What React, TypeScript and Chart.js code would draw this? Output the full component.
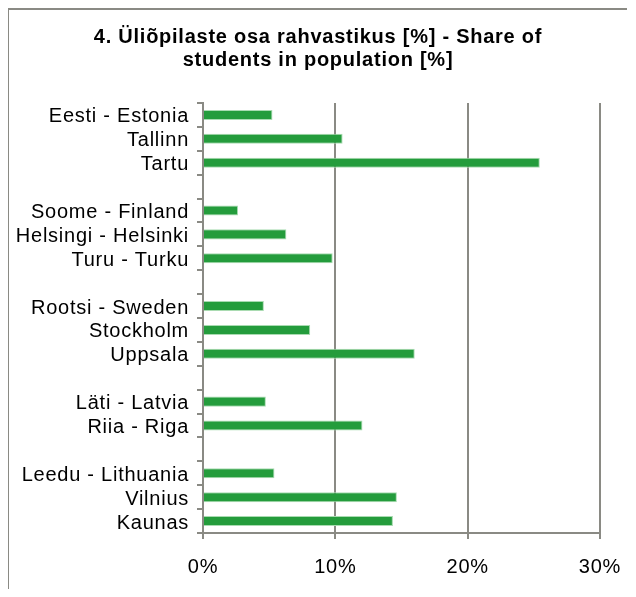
import React, { useEffect, useRef } from 'react';
import { Chart, registerables } from 'chart.js';

Chart.register(...registerables);

const titleLines = ['4. Üliõpilaste osa rahvastikus [%] - Share of', 'students in population [%]'];
const categories = [
  'Eesti - Estonia', 'Tallinn', 'Tartu', '',
  'Soome - Finland', 'Helsingi - Helsinki', 'Turu - Turku', '',
  'Rootsi - Sweden', 'Stockholm', 'Uppsala', '',
  'Läti - Latvia', 'Riia - Riga', '',
  'Leedu - Lithuania', 'Vilnius', 'Kaunas',
];
const shares: (number | null)[] = [
  5.25, 10.55, 25.45, null,
  2.65, 6.3, 9.8, null,
  4.6, 8.1, 16.0, null,
  4.75, 12.05, null,
  5.4, 14.65, 14.35,
];
const xMin = 0;
const xMax = 30;
const xStep = 10;

const GRAY = '#8a8a84';
const SPACING = '0.75px';

const spacingPlugin = {
  id: 'letterSpacing',
  beforeLayout(chart: any) {
    chart.ctx.letterSpacing = SPACING;
  },
  beforeDraw(chart: any) {
    chart.ctx.letterSpacing = SPACING;
  },
};

export default function App() {
  const ref = useRef<HTMLCanvasElement | null>(null);
  useEffect(() => {
    if (!ref.current) return;
    Chart.defaults.font.family = '"Liberation Sans", Arial, sans-serif';
    const chart = new Chart(ref.current, {
      type: 'bar',
      data: {
        labels: categories,
        datasets: [
          {
            data: shares,
            backgroundColor: '#249c3c',
            borderColor: '#a9dbb1',
            borderWidth: 1,
            barPercentage: 0.42,
            categoryPercentage: 1,
          },
        ],
      },
      plugins: [spacingPlugin],
      options: {
        indexAxis: 'y',
        animation: false,
        responsive: false,
        layout: { padding: { left: 0, right: 0, top: 0, bottom: 6 } },
        plugins: {
          legend: { display: false },
          tooltip: { enabled: false },
          title: {
            display: true,
            text: titleLines,
            color: '#000',
            font: { size: 20, weight: 'bold', lineHeight: 23 / 20 },
            padding: { top: 16, bottom: 31 },
          },
        },
        scales: {
          y: {
            type: 'category',
            offset: true,
            grid: {
              offset: true,
              drawOnChartArea: false,
              drawTicks: true,
              tickLength: 6,
              color: GRAY,
              lineWidth: 2,
            },
            border: { display: true, color: GRAY, width: 2 },
            ticks: { autoSkip: false, color: '#000', font: { size: 20 }, padding: 8, labelOffset: 2 },
            afterFit: (s: any) => {
              s.width = 194;
            },
          },
          x: {
            type: 'linear',
            min: xMin,
            max: xMax,
            ticks: {
              stepSize: xStep,
              callback: (v: any) => v + '%',
              color: '#000',
              font: { size: 20 },
              padding: 16,
              maxRotation: 0,
            },
            grid: { color: GRAY, lineWidth: 2, tickLength: 6, drawTicks: true },
            border: { color: GRAY, width: 2 },
            afterFit: (s: any) => {
              s.height = 50;
              s.paddingRight = 27;
            },
          },
        },
      } as any,
    });
    return () => chart.destroy();
  }, []);
  return (
    <div
      style={{
        marginLeft: -1,
        width: 620,
        height: 581,
        boxSizing: 'border-box',
        borderLeft: `2px solid ${GRAY}`,
        borderTop: `2px solid ${GRAY}`,
        overflow: 'hidden',
      }}
    >
      <canvas ref={ref} width={618} height={579} style={{ display: 'block', width: 618, height: 579 }} />
    </div>
  );
}
